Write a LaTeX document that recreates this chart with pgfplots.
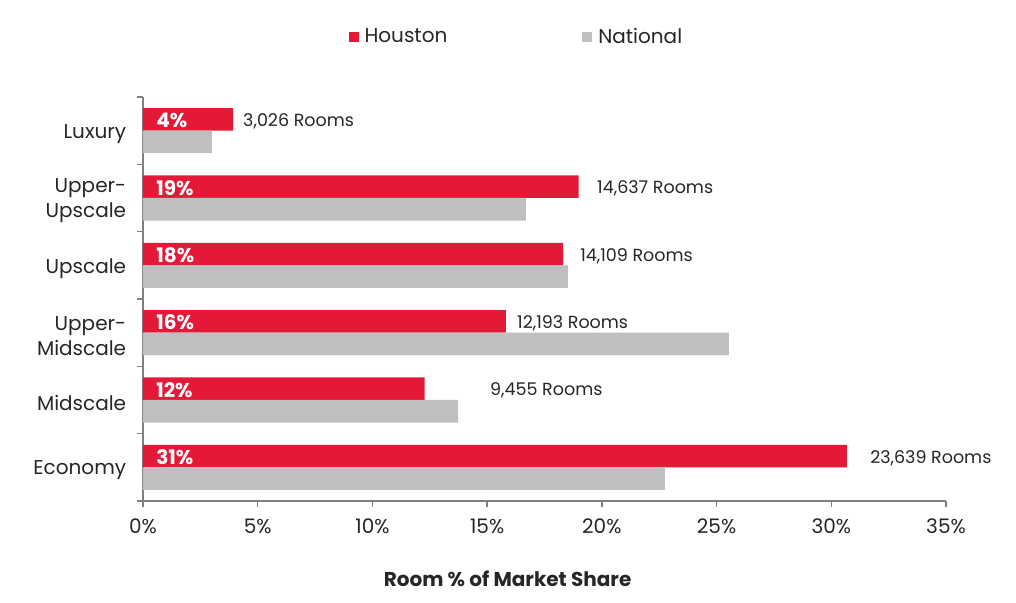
\documentclass[border=0pt]{standalone}
\usepackage{pgfplots}
\pgfplotsset{compat=1.18}
\usepackage{fontspec}
\setmainfont{Poppins}
\definecolor{hou}{RGB}{228,25,55}
\definecolor{nat}{RGB}{191,191,191}
\definecolor{axgray}{RGB}{128,128,128}
\definecolor{txt}{RGB}{38,38,38}
\begin{document}
\fontsize{20bp}{24bp}\selectfont
\begin{tikzpicture}
\useasboundingbox (-143bp,-102bp) rectangle (873bp,501bp);
\begin{axis}[
    scale only axis,
    width=803bp, height=404bp,
    clip=false,
    xbar, bar width=0.335,
    xmin=0, xmax=35,
    ymin=-0.5, ymax=5.5,
    xtick={0,5,...,35},
    xticklabels={0\%,5\%,10\%,15\%,20\%,25\%,30\%,35\%},
    xticklabel style={yshift=-5bp},
    ytick={-0.5,0.5,...,5.5},
    yticklabels={Economy,Midscale,Upper-\\Midscale,Upscale,Upper-\\Upscale,Luxury},
    y tick label as interval,
    yticklabel style={align=right, xshift=-4bp, yshift=-3bp, font=\fontsize{20bp}{25bp}\selectfont},
    tick label style={text=txt},
    axis x line*=bottom, axis y line*=left,
    axis line style={axgray, line width=1.5bp, -},
    tick style={axgray, line width=1.5bp},
    major tick length=6bp, tick align=outside,
    xlabel={Room \% of Market Share},
    xlabel style={font=\bfseries, text=txt, at={(axis description cs:0.454,-0.193)}, anchor=center},
    legend columns=2,
    legend style={draw=none, at={(axis description cs:0.465,1.148)}, anchor=center,
        text=txt, /tikz/every even column/.append style={column sep=133bp}},
    legend image code/.code={\fill[#1] (0bp,-5bp) rectangle (10bp,5bp); \path (0bp,0bp) -- (14bp,0bp);},
]
\addplot[fill=hou, draw=none, bar shift=0.1675] coordinates {
    (30.68,0) (12.27,1) (15.82,2) (18.31,3) (18.99,4) (3.93,5)
};
\addplot[fill=nat, draw=none, bar shift=-0.1675] coordinates {
    (22.75,0) (13.73,1) (25.54,2) (18.52,3) (16.69,4) (3.00,5)
};
\legend{Houston, National}

\begin{scope}[every node/.style={anchor=west, inner sep=0pt, text=white, font=\bfseries}]
\node at (axis cs:0.57,5.15) {4\%};
\node at (axis cs:0.57,4.15) {19\%};
\node at (axis cs:0.57,3.15) {18\%};
\node at (axis cs:0.57,2.15) {16\%};
\node at (axis cs:0.57,1.15) {12\%};
\node at (axis cs:0.57,0.15) {31\%};
\end{scope}
\begin{scope}[every node/.style={anchor=west, inner sep=0pt, text=txt, font=\fontsize{17.5bp}{21bp}\selectfont}]
\node at (axis cs:4.36,5.14) {3,026 Rooms};
\node at (axis cs:19.79,4.14) {14,637 Rooms};
\node at (axis cs:19.05,3.14) {14,109 Rooms};
\node at (axis cs:16.30,2.14) {12,193 Rooms};
\node at (axis cs:15.12,1.14) {9,455 Rooms};
\node at (axis cs:31.69,0.14) {23,639 Rooms};
\end{scope}
\end{axis}
\end{tikzpicture}
\end{document}
